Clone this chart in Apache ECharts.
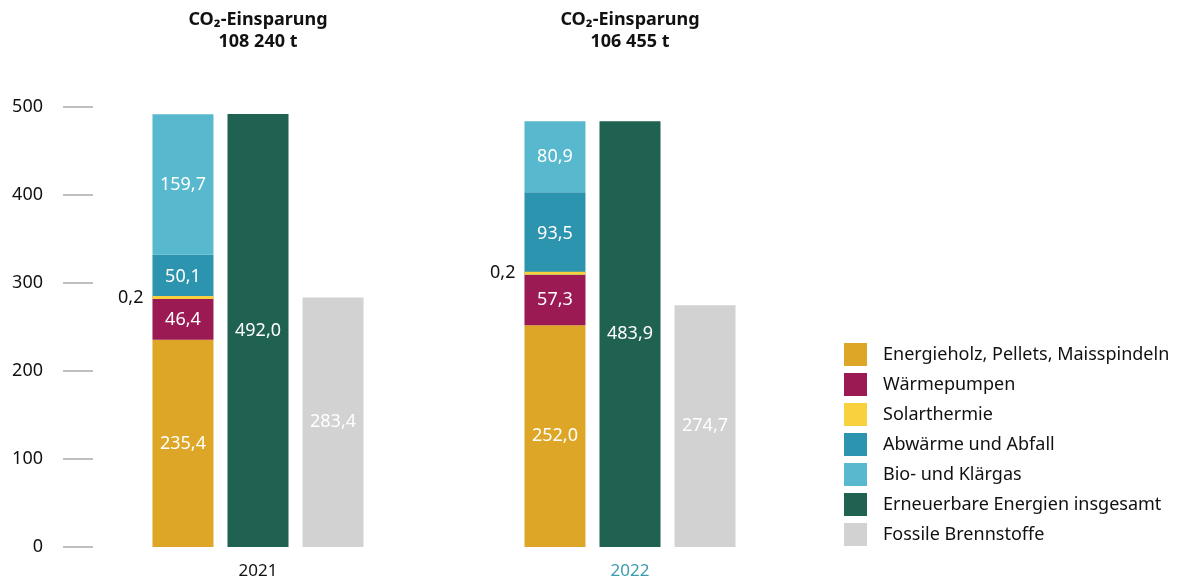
<!DOCTYPE html>
<html>
<head>
<meta charset="utf-8">
<script src="https://cdn.jsdelivr.net/npm/echarts@6/dist/echarts.min.js"></script>
<style>
html,body{margin:0;padding:0;background:#fff;}
#chart{width:1178px;height:581px;}
</style>
</head>
<body>
<div id="chart"></div>
<script>
const categories = ['2021', '2022'];
const titles = [['CO\u2082-Einsparung', '108 240 t'], ['CO\u2082-Einsparung', '106 455 t']];
const yTicks = [0, 100, 200, 300, 400, 500];
const seriesNames = [
  'Energieholz, Pellets, Maisspindeln',
  'Wärmepumpen',
  'Solarthermie',
  'Abwärme und Abfall',
  'Bio- und Klärgas',
  'Erneuerbare Energien insgesamt',
  'Fossile Brennstoffe'
];
const energieholz = [235.4, 252.0];
const waermepumpen = [46.4, 57.3];
const solarthermie = [0.2, 0.2];
const abwaerme = [50.1, 93.5];
const bioKlaergas = [159.7, 80.9];
const erneuerbar = [492.0, 483.9];
const fossil = [283.4, 274.7];

const colors = ['#DEA627', '#9C1A53', '#F9D13E', '#2C94AE', '#58B8CD', '#206252', '#D1D2D1'];
const FONT = 'Noto Sans';
const fmt = p => p.value.toFixed(1).replace('.', ',');

const chart = echarts.init(document.getElementById('chart'), null, {renderer: 'canvas'});

function barSeries(i, data, extra) {
  return Object.assign({
    name: seriesNames[i],
    type: 'bar',
    data: data,
    barWidth: 61,
    barGap: '23%',
    itemStyle: {color: colors[i]},
    label: {show: true, position: 'inside', color: '#fff', fontSize: 18, fontFamily: FONT, formatter: fmt}
  }, extra || {});
}

const option = {
  animation: false,
  color: colors,
  textStyle: {fontFamily: FONT},
  title: categories.map((c, i) => ({
    text: titles[i][0] + '\n' + titles[i][1],
    left: 258 + i * 372,
    top: 9,
    padding: 0,
    textAlign: 'center',
    textStyle: {fontFamily: FONT, fontWeight: 'bold', fontSize: 18, color: '#111', lineHeight: 22}
  })),
  grid: {left: 72, right: 362, top: 107, bottom: 34},
  legend: {
    orient: 'vertical',
    left: 844,
    top: 343,
    padding: 0,
    itemWidth: 23,
    itemHeight: 23,
    itemGap: 7,
    icon: 'rect',
    selectedMode: false,
    data: seriesNames,
    textStyle: {fontFamily: FONT, fontSize: 18, color: '#111', padding: [0, 0, 0, 11]}
  },
  xAxis: {
    type: 'category',
    data: categories,
    axisLine: {show: false},
    axisTick: {show: false},
    axisLabel: {
      margin: 16,
      fontSize: 17,
      fontFamily: FONT,
      color: (v, idx) => idx === 1 ? '#3B9CAE' : '#111'
    }
  },
  yAxis: {
    type: 'value',
    min: 0,
    max: 500,
    interval: 100,
    offset: -21,
    axisLine: {show: false},
    axisTick: {show: true, length: 30, lineStyle: {color: '#ababab', width: 1.5}},
    splitLine: {show: false},
    axisLabel: {margin: 50, fontSize: 18, fontFamily: FONT, color: '#111',
      formatter: v => yTicks.indexOf(v) >= 0 ? String(v) : ''}
  },
  series: [
    barSeries(0, energieholz, {stack: 'r'}),
    barSeries(1, waermepumpen, {stack: 'r'}),
    barSeries(2, solarthermie, {stack: 'r', barMinHeight: 3, z: 3,
      label: {show: true, position: 'left', distance: 9, color: '#111', fontSize: 18, fontFamily: FONT, formatter: fmt}}),
    barSeries(3, abwaerme, {stack: 'r'}),
    barSeries(4, bioKlaergas, {stack: 'r'}),
    barSeries(5, erneuerbar),
    barSeries(6, fossil)
  ]
};
chart.setOption(option);
</script>
</body>
</html>
